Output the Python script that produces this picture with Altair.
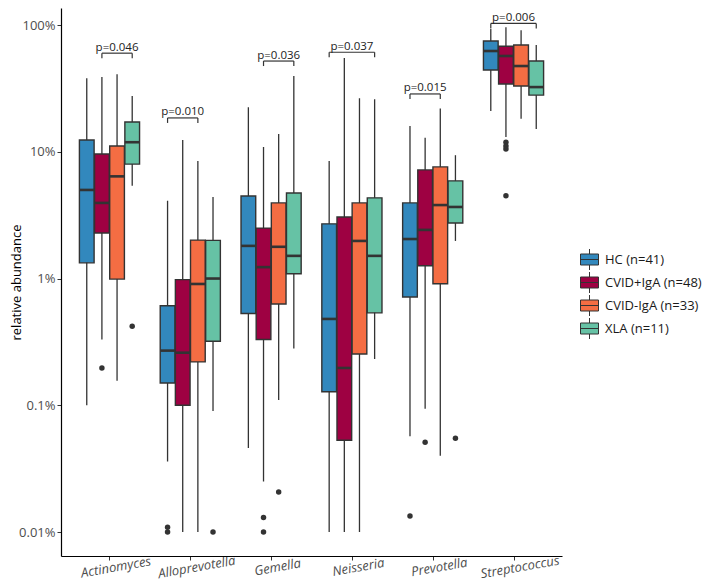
import altair as alt
import pandas as pd

genera = ["Actinomyces", "Alloprevotella", "Gemella", "Neisseria", "Prevotella", "Streptococcus"]
groups = ["HC (n=41)", "CVID+IgA (n=48)", "CVID-IgA (n=33)", "XLA (n=11)"]
colors = ["#3288BD", "#9E0142", "#F46D43", "#66C2A5"]

# box statistics (relative abundance in %), one value per genus
hc_lo = [0.10, 0.036, 0.046, 0.010, 0.057, 21.0]
hc_q1 = [1.33, 0.15, 0.53, 0.128, 0.716, 44.2]
hc_med = [5.0, 0.27, 1.81, 0.48, 2.05, 62.4]
hc_q3 = [12.4, 0.61, 4.48, 2.7, 3.95, 74.8]
hc_hi = [38.0, 4.1, 22.5, 8.45, 16.0, 93.0]

cp_lo = [0.33, 0.010, 0.025, 0.010, 0.094, 13.1]
cp_q1 = [2.29, 0.10, 0.33, 0.053, 1.26, 34.3]
cp_med = [3.95, 0.26, 1.23, 0.197, 2.42, 57.0]
cp_q3 = [9.6, 0.98, 2.5, 3.06, 7.2, 68.0]
cp_hi = [38.9, 12.4, 10.9, 55.0, 12.9, 96.0]

cm_lo = [0.156, 0.010, 0.11, 0.010, 0.040, 18.2]
cm_q1 = [0.99, 0.22, 0.63, 0.254, 0.91, 33.0]
cm_med = [6.4, 0.906, 1.78, 1.98, 3.8, 47.5]
cm_q3 = [11.1, 2.01, 3.95, 3.95, 7.6, 69.5]
cm_hi = [41.0, 8.45, 13.8, 26.5, 22.0, 91.0]

xla_lo = [5.4, 0.09, 0.28, 0.232, 1.98, 15.1]
xla_q1 = [8.0, 0.32, 1.09, 0.536, 2.74, 28.0]
xla_med = [11.9, 1.0, 1.51, 1.51, 3.67, 32.4]
xla_q3 = [17.2, 2.0, 4.73, 4.33, 5.9, 52.0]
xla_hi = [27.5, 4.4, 39.6, 26.0, 9.4, 69.5]

# outliers: genus, group, value (%)
out_genus = ["Actinomyces", "Actinomyces", "Alloprevotella", "Alloprevotella", "Alloprevotella",
             "Gemella", "Gemella", "Gemella", "Prevotella", "Prevotella", "Prevotella",
             "Streptococcus", "Streptococcus", "Streptococcus", "Streptococcus"]
out_group = ["CVID+IgA (n=48)", "XLA (n=11)", "HC (n=41)", "HC (n=41)", "XLA (n=11)",
             "CVID+IgA (n=48)", "CVID+IgA (n=48)", "CVID-IgA (n=33)", "HC (n=41)", "CVID+IgA (n=48)", "XLA (n=11)",
             "CVID+IgA (n=48)", "CVID+IgA (n=48)", "CVID+IgA (n=48)", "CVID+IgA (n=48)"]
out_value = [0.197, 0.42, 0.0109, 0.0100, 0.0100,
             0.013, 0.010, 0.0207, 0.0134, 0.051, 0.055,
             11.9, 11.1, 10.5, 4.5]

# significance brackets
br_genus = ["Actinomyces", "Alloprevotella", "Gemella", "Neisseria", "Prevotella", "Streptococcus"]
br_from = ["CVID+IgA (n=48)", "HC (n=41)", "CVID+IgA (n=48)", "HC (n=41)", "HC (n=41)", "HC (n=41)"]
br_to = ["XLA (n=11)", "CVID-IgA (n=33)", "XLA (n=11)", "XLA (n=11)", "CVID-IgA (n=33)", "XLA (n=11)"]
br_y = [60.0, 18.5, 52.0, 61.0, 28.6, 103.0]
br_label = ["p=0.046", "p=0.010", "p=0.036", "p=0.037", "p=0.015", "p=0.006"]

stats = {
    groups[0]: (hc_lo, hc_q1, hc_med, hc_q3, hc_hi),
    groups[1]: (cp_lo, cp_q1, cp_med, cp_q3, cp_hi),
    groups[2]: (cm_lo, cm_q1, cm_med, cm_q3, cm_hi),
    groups[3]: (xla_lo, xla_q1, xla_med, xla_q3, xla_hi),
}

DODGE = 0.75
STEP = DODGE / len(groups)
HALF = STEP / 2 * 0.97


def dodge(genus, group):
    return genera.index(genus) + 1 + (groups.index(group) - (len(groups) - 1) / 2) * STEP


rows = []
for g in groups:
    lo, q1, med, q3, hi = stats[g]
    for i, gen in enumerate(genera):
        xc = dodge(gen, g)
        rows.append(dict(genus=gen, group=g, lo=lo[i], q1=q1[i], med=med[i], q3=q3[i], hi=hi[i],
                         x=xc, xl=xc - HALF, xr=xc + HALF))
boxes = pd.DataFrame(rows)

outl = pd.DataFrame(dict(genus=out_genus, group=out_group, value=out_value))
outl["x"] = [dodge(a, b) for a, b in zip(out_genus, out_group)]

br = pd.DataFrame(dict(genus=br_genus, y=br_y, label=br_label))
br["xs"] = [dodge(a, b) for a, b in zip(br_genus, br_from)]
br["xe"] = [dodge(a, b) for a, b in zip(br_genus, br_to)]
br["xm"] = (br["xs"] + br["xe"]) / 2

FONT = "Open Sans"
DARK = "#333333"

label_expr = "[" + ",".join("'%s'" % g for g in genera) + "][datum.value - 1]"

xscale = alt.Scale(domain=[0.4, 6.6], nice=False, zero=False)
yscale = alt.Scale(type="log", domain=[0.00647, 136.3], nice=False)

xaxis = alt.Axis(values=list(range(1, len(genera) + 1)), labelExpr=label_expr, title=None, grid=False,
                 labelAngle=350, labelAlign="center", labelBaseline="top", labelFontStyle="italic",
                 labelFont=FONT, labelFontSize=13, labelColor="#4d4d4d", labelOffset=5, labelPadding=1,
                 labelFlush=False, labelOverlap=False, labelBound=False,
                 tickSize=4, tickColor=DARK, domainColor="black", domainWidth=1.2)
yaxis = alt.Axis(values=[0.01, 0.1, 1, 10, 100], labelExpr="format(datum.value, '~g') + '%'",
                 title="relative abundance", titleFont=FONT, titleFontSize=13, titleFontWeight="normal",
                 titleColor="black", titleX=-38, titleBaseline="bottom", titleAngle=270, grid=False,
                 labelFont=FONT, labelFontSize=13, labelColor="#4d4d4d", labelPadding=2,
                 tickSize=4, tickColor=DARK, domainColor="black", domainWidth=1.2)


def X(field):
    return alt.X(field, type="quantitative", scale=xscale, axis=xaxis)


def Y(field):
    return alt.Y(field, type="quantitative", scale=yscale, axis=yaxis)


legend_path = "M-0.9,-0.55H0.9V0.55H-0.9Z M-0.9,0H0.9 M0,-0.55V-1.05 M0,0.55V1.05"

color = alt.Color("group:N", scale=alt.Scale(domain=groups, range=colors),
                  legend=alt.Legend(title=None, orient="none", legendX=518, legendY=241,
                                    symbolType=legend_path, symbolSize=400, symbolStrokeColor=DARK,
                                    symbolStrokeWidth=1, symbolOpacity=1, labelFont=FONT, labelFontSize=13,
                                    labelColor="#1a1a1a", rowPadding=-11, labelOffset=5))

whisk = alt.Chart(boxes).mark_rule(color=DARK, strokeWidth=1.3).encode(
    x=X("x"), y=Y("lo"), y2="hi")
box = alt.Chart(boxes).mark_rect(stroke=DARK, strokeWidth=1.4, opacity=1).encode(
    x=X("xl"), x2="xr", y=Y("q1"), y2="q3", color=color)
median = alt.Chart(boxes).mark_rule(color=DARK, strokeWidth=2.6).encode(
    x=X("xl"), x2="xr", y=Y("med"))
pts = alt.Chart(outl).mark_circle(color=DARK, size=30, opacity=1).encode(
    x=X("x"), y=Y("value"))
br_h = alt.Chart(br).mark_rule(color=DARK, strokeWidth=1.2).encode(
    x=X("xs"), x2="xe", y=Y("y"))
br_l = alt.Chart(br).mark_rule(color=DARK, strokeWidth=1.2, y2Offset=5).encode(
    x=X("xs"), y=Y("y"), y2="y")
br_r = alt.Chart(br).mark_rule(color=DARK, strokeWidth=1.2, y2Offset=5).encode(
    x=X("xe"), y=Y("y"), y2="y")
br_t = alt.Chart(br).mark_text(font=FONT, fontSize=11.5, color="#222222", baseline="alphabetic", dy=-2.5).encode(
    x=X("xm"), y=Y("y"), text="label:N")

chart = alt.layer(whisk, box, median, pts, br_h, br_l, br_r, br_t).properties(
    width=501, height=548,
    autosize=alt.AutoSizeParams(type="none"),
    padding={"left": 53, "top": 0, "right": 140, "bottom": 28},
).configure_view(strokeWidth=0)

chart.save("out.html", embed_options={"renderer": "svg", "actions": False})
